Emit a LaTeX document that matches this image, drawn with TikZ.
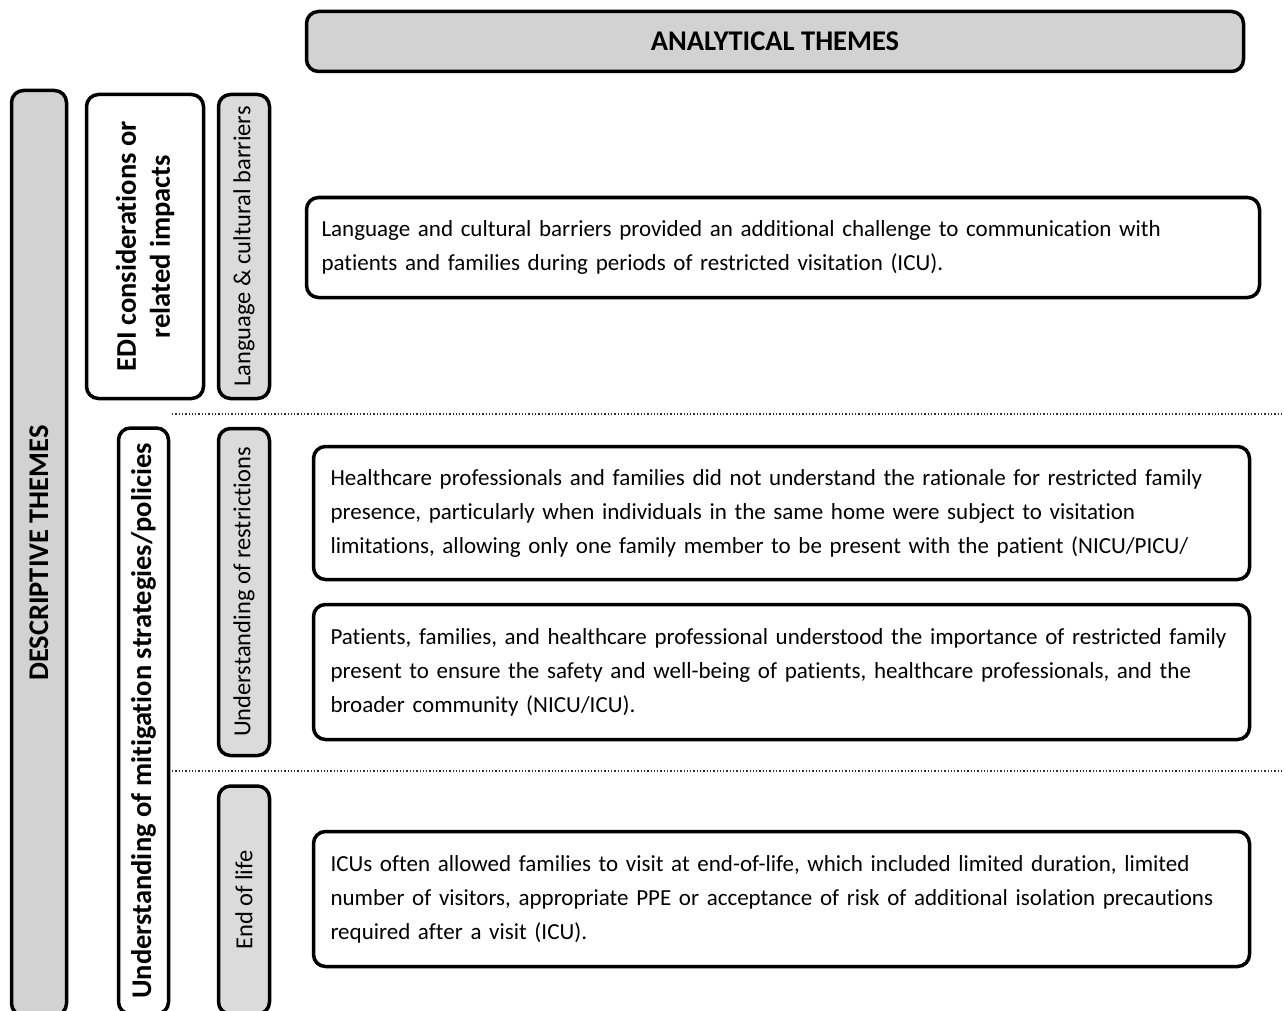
\documentclass[tikz,border=0pt]{standalone}
\usepackage{fontspec}
\setmainfont{Carlito}[Ligatures=NoCommon]
\begin{document}
\begin{tikzpicture}[x=1pt,y=-1pt,
  frame/.style={draw=black, line width=3.5pt, rounded corners=12pt, inner sep=0pt},
  graybox/.style={frame, fill=gray!35},
  lightbox/.style={frame, fill=gray!28},
  whitebox/.style={frame, fill=white},
  bigtxt/.style={font=\fontsize{28.5}{34}\selectfont\bfseries},
  smalltxt/.style={font=\fontsize{24.5}{28}\selectfont},
  bodytxt/.style={font=\fontsize{23}{34}\selectfont, align=left},
  sep/.style={dotted, line width=1.3pt, black!80}
]
\useasboundingbox (0,0) rectangle (1284,1011);
\clip (0,0) rectangle (1284,1011);
\fill[white] (0,0) rectangle (1284,1011);

% header
\node[graybox, minimum width=937pt, minimum height=60pt, bigtxt] (analytical) at (775,41.5) {ANALYTICAL THEMES};

% left column
\node[graybox, rotate=90, minimum width=925pt, minimum height=55pt, bigtxt] (descriptive) at (39,553) {DESCRIPTIVE THEMES};
\node[whitebox, rotate=90, minimum width=304pt, minimum height=117pt, bigtxt, align=center] (edi) at (145,246.5) {EDI considerations or\\related impacts};
\node[whitebox, rotate=90, minimum width=586pt, minimum height=50pt, bigtxt] (mitig) at (143.5,721) {Understanding of mitigation strategies/policies};

\node[lightbox, rotate=90, minimum width=304pt, minimum height=51pt, smalltxt] (lang) at (244,246.5) {Language \& cultural barriers};
\node[lightbox, rotate=90, minimum width=327pt, minimum height=51pt, smalltxt] (restr) at (244,592) {Understanding of restrictions};
\node[lightbox, rotate=90, minimum width=228pt, minimum height=51pt, smalltxt] (eol) at (244,900) {End of life};

% separators
\coordinate (s1a) at (172,414); \coordinate (s1b) at (1284,414);
\coordinate (s2a) at (172,771); \coordinate (s2b) at (1284,771);
\draw[sep] (s1a) -- (s1b);
\draw[sep] (s2a) -- (s2b);

% text boxes
\node[whitebox, bodytxt, minimum height=100pt, inner xsep=15pt, text width=923pt] (t1) at (783,247.5)
 {Language and cultural barriers  provided an additional challenge to communication with\\
  patients and families during periods of restricted visitation (ICU).};
\node[whitebox, bodytxt, minimum height=133pt, inner xsep=17pt, text width=902pt] (t2) at (781.5,513)
 {Healthcare professionals and families did not understand the rationale for restricted family\\
  presence, particularly when individuals in the same home were subject to visitation\\
  limitations, allowing only one family member to be present with the patient (NICU/PICU/};
\node[whitebox, bodytxt, minimum height=135pt, inner xsep=17pt, text width=902pt] (t3) at (781.5,672)
 {Patients, families, and healthcare professional understood the importance of restricted family\\
  present to ensure the safety and well-being of patients, healthcare professionals, and the\\
  broader community (NICU/ICU).};
\node[whitebox, bodytxt, minimum height=135pt, inner xsep=17pt, text width=902pt] (t4) at (781.5,899)
 {ICUs often allowed families to visit at end-of-life, which included limited duration, limited\\
  number of visitors, appropriate PPE or acceptance of risk of additional isolation precautions\\
  required after a visit (ICU).};
\end{tikzpicture}
\end{document}
